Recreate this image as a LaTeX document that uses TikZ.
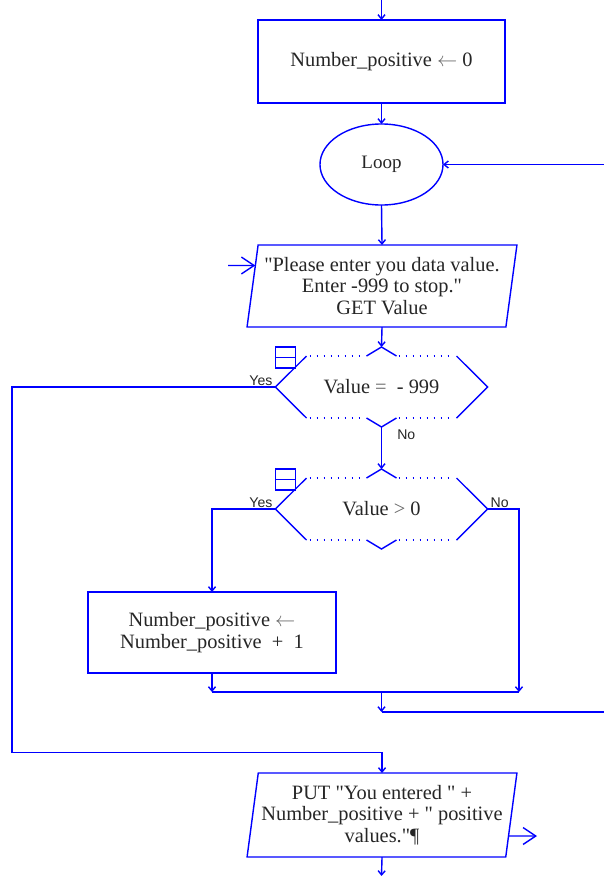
\documentclass[tikz,border=0pt]{standalone}
\usepackage{fontspec}
\setmainfont{Liberation Serif}
\setsansfont{Liberation Sans}
\usetikzlibrary{shapes.geometric, arrows.meta, positioning, calc}
\newcommand{\qt}{\textquotedbl}
\tikzset{
    box/.style={draw=blue, line width=1pt, fill=white, align=center, text=black!85, font=\fontsize{14.5}{15.3}\selectfont, outer sep=0pt},
    loopnode/.style={ellipse, draw=blue, line width=1pt, text=black!85, font=\fontsize{13.5}{15.3}\selectfont, minimum width=3.075cm, minimum height=2.025cm, inner sep=0pt, outer sep=0pt},
    io/.style={trapezium, trapezium left angle=80, trapezium right angle=100, trapezium stretches=true, draw=blue, line width=1pt, align=center, text=black!85, font=\fontsize{14.5}{15.3}\selectfont, minimum width=6.75cm, inner sep=1pt, outer sep=0pt},
    decision/.style={minimum width=5.3cm, minimum height=2cm, align=center, text=black!85, font=\fontsize{14.5}{15.3}\selectfont, inner sep=0pt, outer sep=0pt},
    line/.style={line width=1pt, blue},
    arrow/.style={-{Straight Barb[length=3pt,width=5pt]}, line width=1pt, blue},
    ioarrow/.style={-{Straight Barb[length=9pt,width=12pt]}, line width=1pt, blue},
    lbl/.style={font=\sffamily\fontsize{10}{12}\selectfont, text=black!85, inner sep=1pt}
}
% hexagon with dotted top/bottom, drawn round a decision node
\newcommand{\decframe}[1]{%
    \draw[line] ($(#1.center)+(-75,-31)$) -- (#1.west) -- ($(#1.center)+(-75,31)$);
    \draw[line] ($(#1.center)+(75,-31)$) -- (#1.east) -- ($(#1.center)+(75,31)$);
    \draw[line] ($(#1.center)+(-15,-31)$) -- (#1.north) -- ($(#1.center)+(15,-31)$);
    \draw[line] ($(#1.center)+(-15,31)$) -- (#1.south) -- ($(#1.center)+(15,31)$);
    \draw[line, line width=0.8pt, dash pattern=on 1pt off 4pt] ($(#1.center)+(-72,-31)$) -- ($(#1.center)+(-17,-31)$);
    \draw[line, line width=0.8pt, dash pattern=on 1pt off 4pt] ($(#1.center)+(17,-31)$) -- ($(#1.center)+(72,-31)$);
    \draw[line, line width=0.8pt, dash pattern=on 1pt off 4pt] ($(#1.center)+(-72,31)$) -- ($(#1.center)+(-17,31)$);
    \draw[line, line width=0.8pt, dash pattern=on 1pt off 4pt] ($(#1.center)+(17,31)$) -- ($(#1.center)+(72,31)$);
    \draw[line] ($(#1.center)+(-106,-40)$) rectangle ($(#1.center)+(-86,-19)$);
    \draw[line] ($(#1.center)+(-106,-29.5)$) -- ($(#1.center)+(-86,-29.5)$);
}
\begin{document}
\begin{tikzpicture}[x=0.025cm, y=-0.025cm]
    \useasboundingbox (0,0) rectangle (604,876);
    \node [box, minimum width=6.175cm, minimum height=2.075cm] (init) at (381.5,61.5) {Number\_positive {\color{black!60}$\leftarrow$} 0};
    \node [loopnode] (loop) at (381.5,164.5) {Loop};
    \node [io, minimum height=2.05cm] (get) at (382,286) {\qt Please enter you data value.\\Enter -999 to stop.\qt\\GET Value};
    \node [decision] (check) at (381.5,387) {Value {\color{black!60}=} \ - 999};
    \node [decision] (sign) at (381.5,509) {Value {\color{black!60}>} 0};
    \node [box, minimum width=6.2cm, minimum height=2.025cm] (incr) at (212,632.5) {Number\_positive {\color{black!60}$\leftarrow$}\\Number\_positive \ + \ 1};
    \node [io, minimum height=2.1cm] (put) at (382,815) {PUT \qt You entered \qt\ +\\Number\_positive + \qt\ positive\\values.\qt¶};
    \decframe{check}
    \decframe{sign}
    % loose ends
    \coordinate (start) at (381.5,0);
    \coordinate (back) at (604,164.5);
    \coordinate (getin) at (228,265.5);
    \coordinate (getedge) at ($(get.top left corner)!0.25!(get.bottom left corner)$);
    \coordinate (exitl) at (12,752.5);
    \coordinate (joinl) at (212,692);
    \coordinate (joinr) at (519,692);
    \coordinate (joinm) at (381.5,692);
    \coordinate (backm) at (381.5,712);
    \coordinate (backr) at (604,712);
    \coordinate (putedge) at ($(put.top right corner)!0.75!(put.bottom right corner)$);
    \coordinate (putout) at (537,836);
    \coordinate (end) at (381.5,876);
    \draw [arrow] (start) -- (init.north);
    \draw [arrow] (init.south) -- (loop.north);
    \draw [arrow] (back) -- (loop.east);
    \draw [arrow] (loop.south) -- (get.north);
    \draw [ioarrow] (getin) -- (getedge);
    \draw [arrow] (get.south) -- (check.north);
    \draw [arrow] (check.south) -- (sign.north);
    \draw [arrow] (check.west) -| (exitl) -| (put.north);
    \draw [arrow] (sign.west) -| (incr.north);
    \draw [arrow] (sign.east) -| (joinr);
    \draw [arrow] (incr.south) -- (joinl);
    \draw [line] (joinl) -- (joinr);
    \draw [arrow] (joinm) -- (backm);
    \draw [line] (backm) -- (backr);
    \draw [ioarrow] (putedge) -- (putout);
    \draw [arrow] (put.south) -- (end);
    \node [lbl, anchor=south east] (yes1) at ([xshift=-1pt]check.west) {Yes};
    \node [lbl, anchor=north west] (no1) at ([xshift=10pt,yshift=-1pt]check.south) {No};
    \node [lbl, anchor=south east] (yes2) at ([xshift=-1pt]sign.west) {Yes};
    \node [lbl, anchor=south west] (no2) at ([xshift=1pt]sign.east) {No};
\end{tikzpicture}
\end{document}
